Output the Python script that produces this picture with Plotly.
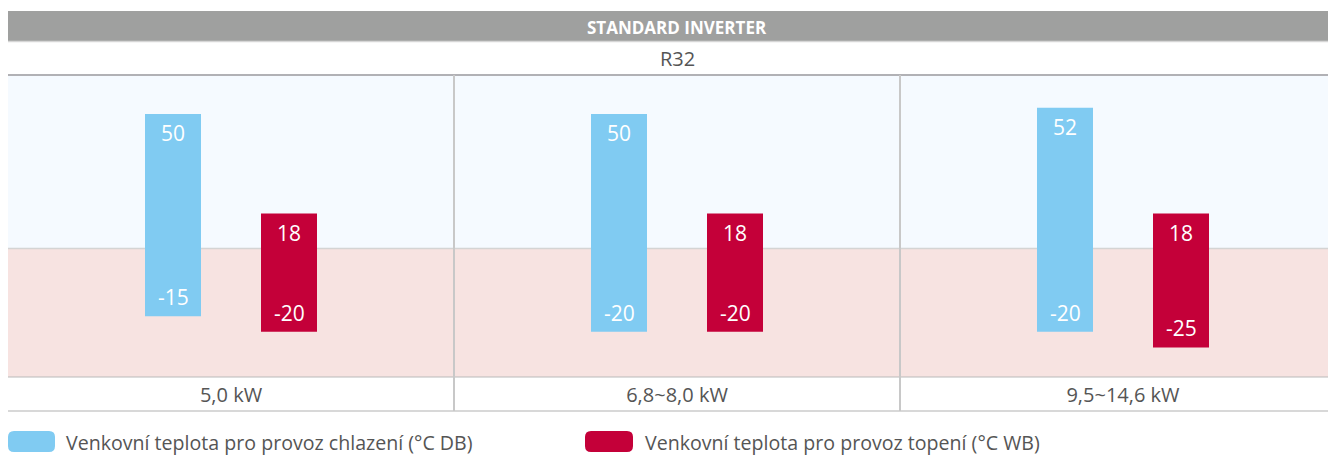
import plotly.graph_objects as go

# ---- data ----
categories = ["5,0 kW", "6,8~8,0 kW", "9,5~14,6 kW"]
cool_max = [50, 50, 52]
cool_min = [-15, -20, -20]
heat_max = [18, 18, 18]
heat_min = [-20, -20, -25]
cool_name = "Venkovní teplota pro provoz chlazení (°C DB)"
heat_name = "Venkovní teplota pro provoz topení (°C WB)"
header_title = "STANDARD INVERTER"
refrigerant = "R32"

# ---- styling ----
OX, OY = 8, 8                               # page body margin offset
W, H = 1336 - OX, 455 - OY                  # figure size
PL, PR, PT, PB = 8, 1336, 75, 377           # plot area in page pixels
FONT = "Open Sans, Noto Sans, sans-serif"
TXT = "#555555"
BLUE = "#80cbf2"
RED = "#c40039"
SEC = 446.0                                 # pixel width of one category section
BW = 56 / SEC
BLUE_OFF = -86 / SEC
RED_OFF = 30 / SEC


def px(x):
    return (x - PL) / (PR - PL)


def py(y):
    return (PB - y) / (PB - PT)


xi = list(range(len(categories)))

fig = go.Figure()
fig.add_trace(go.Bar(
    x=xi, y=[t - b for t, b in zip(cool_max, cool_min)], base=cool_min,
    width=BW, offset=BLUE_OFF, marker=dict(color=BLUE, line=dict(width=0)),
    name=cool_name, showlegend=False, hoverinfo="skip"))
fig.add_trace(go.Bar(
    x=xi, y=[t - b for t, b in zip(heat_max, heat_min)], base=heat_min,
    width=BW, offset=RED_OFF, marker=dict(color=RED, line=dict(width=0)),
    name=heat_name, showlegend=False, hoverinfo="skip"))

ann = []
lblfont = dict(family=FONT, size=21, color="white")
for i in xi:
    cx_b = i + BLUE_OFF + BW / 2
    cx_r = i + RED_OFF + BW / 2
    for cx, top, bot in ((cx_b, cool_max[i], cool_min[i]), (cx_r, heat_max[i], heat_min[i])):
        ann.append(dict(x=cx, y=top, xref="x", yref="y", text=str(top), showarrow=False,
                        yanchor="middle", yshift=-19, font=lblfont))
        ann.append(dict(x=cx, y=bot, xref="x", yref="y", text=str(bot), showarrow=False,
                        yanchor="middle", yshift=19, font=lblfont))

ann.append(dict(x=px(677), y=py(27), xref="paper", yref="paper", text="<b>" + header_title + "</b>",
                showarrow=False, xanchor="center", yanchor="middle",
                font=dict(family=FONT, size=17, color="white")))
ann.append(dict(x=px(677), y=py(59), xref="paper", yref="paper", text=refrigerant,
                showarrow=False, xanchor="center", yanchor="middle",
                font=dict(family=FONT, size=20, color=TXT)))
ann.append(dict(x=px(64), y=py(442), xref="paper", yref="paper", text=cool_name,
                showarrow=False, xanchor="left", yanchor="middle",
                font=dict(family=FONT, size=19.6, color=TXT)))
ann.append(dict(x=px(643), y=py(442), xref="paper", yref="paper", text=heat_name,
                showarrow=False, xanchor="left", yanchor="middle",
                font=dict(family=FONT, size=19.6, color=TXT)))

shapes = []


def rect(x0, y0, x1, y1, color):
    shapes.append(dict(type="rect", xref="paper", yref="paper", x0=px(x0), x1=px(x1),
                       y0=py(y1), y1=py(y0), fillcolor=color, line=dict(width=0), layer="below"))


def hline(y, color, w=1, x0=PL, x1=PR):
    shapes.append(dict(type="line", xref="paper", yref="paper", x0=px(x0), x1=px(x1),
                       y0=py(y), y1=py(y), line=dict(color=color, width=w), layer="below"))


def pill(x0, y0, x1, y1, r, color):
    X = lambda v: px(v)
    Y = lambda v: py(v)
    p = (f"M {X(x0+r)} {Y(y0)} L {X(x1-r)} {Y(y0)} Q {X(x1)} {Y(y0)} {X(x1)} {Y(y0+r)} "
         f"L {X(x1)} {Y(y1-r)} Q {X(x1)} {Y(y1)} {X(x1-r)} {Y(y1)} "
         f"L {X(x0+r)} {Y(y1)} Q {X(x0)} {Y(y1)} {X(x0)} {Y(y1-r)} "
         f"L {X(x0)} {Y(y0+r)} Q {X(x0)} {Y(y0)} {X(x0+r)} {Y(y0)} Z")
    shapes.append(dict(type="path", xref="paper", yref="paper", path=p,
                       fillcolor=color, line=dict(width=0)))


rect(8, 11, PR, 41, "#9fa09f")
hline(41.5, "#d6d6d6", 1.5)
rect(8, 75, PR, 248, "#f5faff")
rect(8, 248, PR, 377, "#f7e3e1")
hline(248.5, "#d4d4d4", 1.5)
hline(75, "#b1b1b5", 2)
hline(377, "#b9b9b9", 1.2)
hline(411, "#d8d8d8", 2)
for xv in (0.5, 1.5):
    shapes.append(dict(type="line", xref="x", yref="paper", x0=xv, x1=xv, y0=py(411), y1=py(75),
                       line=dict(color="#c8c8c8", width=2), layer="below"))
pill(8, 431, 55, 452, 6, BLUE)
pill(585, 431, 633, 452, 6, RED)

fig.update_layout(
    width=W, height=H,
    margin=dict(l=PL - OX, r=0, t=PT - OY, b=(455 - OY) - (PB - OY)),
    paper_bgcolor="white", plot_bgcolor="rgba(0,0,0,0)",
    barmode="overlay", showlegend=False,
    annotations=ann, shapes=shapes,
    xaxis=dict(range=[-0.5, -0.5 + (PR - PL) / SEC], tickmode="array", tickvals=xi,
               ticktext=categories, tickfont=dict(family=FONT, size=20, color=TXT),
               ticks="", ticklabelstandoff=4,
               showgrid=False, zeroline=False, showline=False, fixedrange=True),
    yaxis=dict(range=[-34.5, 62.5], showgrid=False, zeroline=False, showline=False,
               showticklabels=False, fixedrange=True),
    font=dict(family=FONT, color=TXT),
)

fig.write_html("out.html", config={"displayModeBar": False})
